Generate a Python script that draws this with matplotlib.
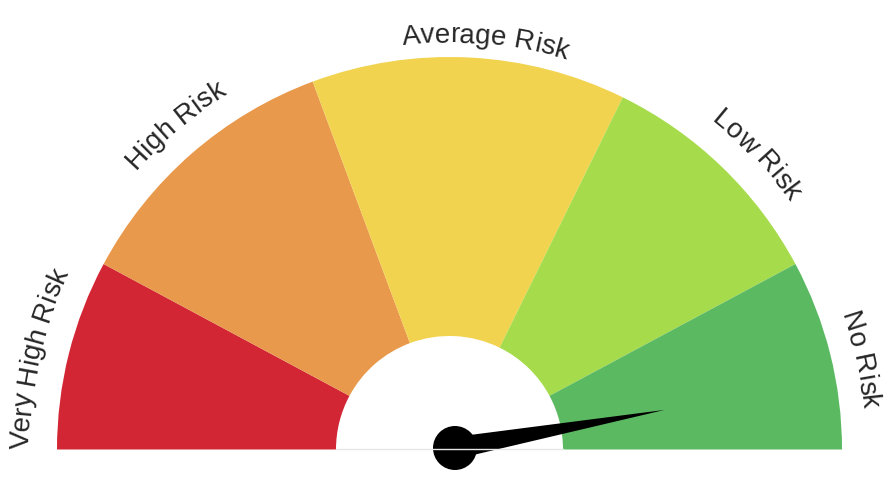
import matplotlib
matplotlib.use("Agg")
import matplotlib.pyplot as plt
import numpy as np
from matplotlib.font_manager import FontProperties
from matplotlib.patches import Circle, Polygon, Wedge
from matplotlib.textpath import TextToPath

# ---------------------------------------------------------------------------
# Data
# ---------------------------------------------------------------------------
labels = ["Very High Risk", "High Risk", "Average Risk", "Low Risk", "No Risk"]
spans = [28.2, 41.4, 46.6, 35.6, 28.2]  # degrees of each band, left to right
needle_deg = 10.3  # needle angle, degrees from the right end

# ---------------------------------------------------------------------------
# Style
# ---------------------------------------------------------------------------
colors = ["#D32635", "#E9994B", "#F2D350", "#A6DC4B", "#5BB962"]
label_r = [421, 420, 407, 420, 414]
label_ang = [167.5, 130.2, 85, 43.8, 12.3]
TEXT_COLOR = "#262626"
FS = 20

W, H = 887, 499
CX, CY = 449.5, H - 449.5
R_OUT, R_IN = 392.5, 113.5
PX = 100 / 72  # points -> pixels

fig = plt.figure(figsize=(W / 100, H / 100), dpi=100)
ax = fig.add_axes([0, 0, 1, 1])
ax.set_xlim(0, W)
ax.set_ylim(0, H)
ax.set_aspect("equal")
ax.axis("off")

edges = 180 - np.concatenate([[0], np.cumsum(spans)])
for i, c in enumerate(colors):
    ax.add_patch(Wedge((CX, CY), R_OUT, edges[i + 1], edges[i],
                       width=R_OUT - R_IN, facecolor=c, lw=0))

ax.plot([CX - R_IN, CX + R_IN], [CY, CY], color="#e6e6e6", lw=1)

fp = FontProperties(family="Liberation Sans", size=FS)
t2p = TextToPath()


def text_w(s):
    w, _, _ = t2p.get_text_width_height_descent(s + "|", fp, ismath=False)
    w0, _, _ = t2p.get_text_width_height_descent("|", fp, ismath=False)
    return (w - w0) * PX


def curved_text(s, r, ang_c):
    total = text_w(s)
    for i, ch in enumerate(s):
        if ch == " ":
            continue
        mid = (text_w(s[:i]) + text_w(s[:i + 1])) / 2 - total / 2
        a = ang_c - np.degrees(mid / r)
        x = CX + r * np.cos(np.radians(a))
        y = CY + r * np.sin(np.radians(a))
        ax.text(x, y, ch, fontproperties=fp, color=TEXT_COLOR,
                rotation=a - 90, rotation_mode="anchor",
                ha="center", va="baseline")


for lab, r, a in zip(labels, label_r, label_ang):
    curved_text(lab, r, a)

# needle
NX, NY = 455, H - 448
L, HW = 213, 11
t = np.radians(needle_deg)
tip = (NX + L * np.cos(t), NY + L * np.sin(t))
b1 = (NX - HW * np.sin(t), NY + HW * np.cos(t))
b2 = (NX + HW * np.sin(t), NY - HW * np.cos(t))
ax.add_patch(Polygon([b1, tip, b2], closed=True, facecolor="black", lw=0))
ax.add_patch(Circle((NX, NY), 22, facecolor="black", lw=0))

fig.savefig("out.png", dpi=100)
